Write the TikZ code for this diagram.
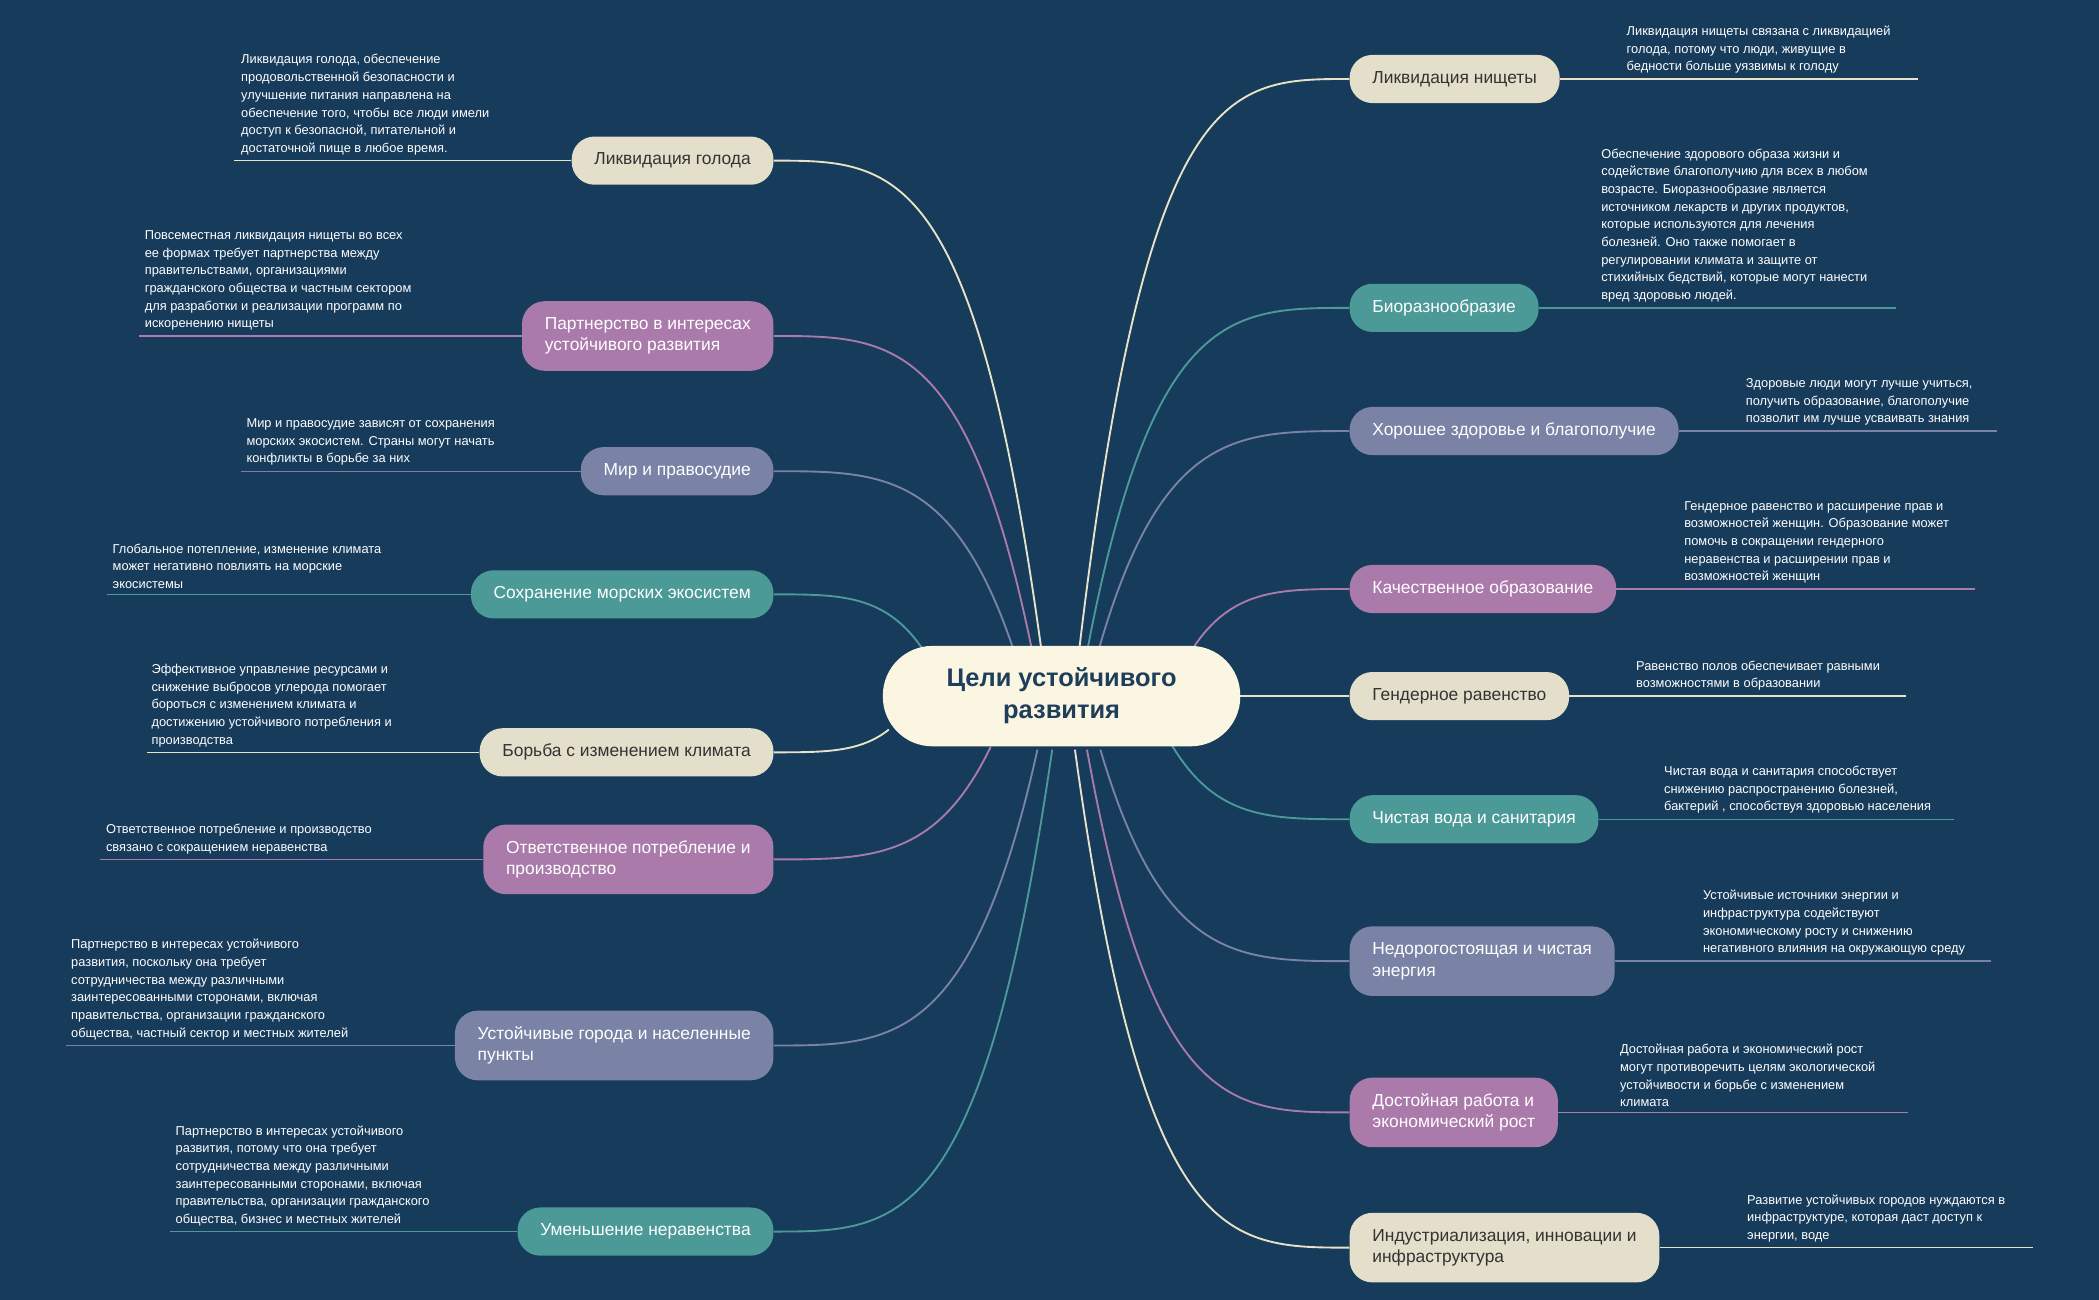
\documentclass[tikz,border=0pt]{standalone}
\usepackage{fontspec}
\setmainfont{Liberation Sans}
\usetikzlibrary{calc}
\definecolor{bg}{HTML}{173B5B}
\definecolor{cr}{HTML}{E3DFCB}
\definecolor{crl}{HTML}{E8E3C6}
\definecolor{pu}{HTML}{A97AAA}
\definecolor{sl}{HTML}{7A83A5}
\definecolor{te}{HTML}{4B9A98}
\definecolor{ctr}{HTML}{FBF6E2}
\definecolor{ctxt}{HTML}{1F3E5C}
\newcommand\myconn[3]{\draw[#1,line width=1.4pt] (#2) .. controls ($(#2|-#3)!0.25!(#3)$) and ($(#2|-#3)!0.55!(#3)$) .. (#3);}
\tikzset{
 nd/.style={rounded corners=17pt,minimum height=36pt,inner xsep=17pt,inner ysep=4pt,align=left,font=\fontsize{13}{16}\selectfont},
 ncr/.style={nd,fill=cr,text=black!80},
 npu/.style={nd,fill=pu,text=white},
 nsl/.style={nd,fill=sl,text=white},
 nte/.style={nd,fill=te,text=white},
 ann/.style={anchor=south west,inner sep=0pt,align=left,text=white,font=\fontsize{9.6}{13.2}\selectfont},
 ul/.style={line width=1pt}
}
\begin{document}
\begin{tikzpicture}[x=1pt,y=-1pt]
\fill[bg] (0,0) rectangle (1568,971);
\useasboundingbox (0,0) rectangle (1568,971);
% start coordinates
\coordinate (r1) at (806,487); \coordinate (r2) at (812,487); \coordinate (r3) at (820,488);
\coordinate (r4) at (890,486); \coordinate (r5) at (925,520); \coordinate (r6) at (875,556);
\coordinate (r7) at (822,560); \coordinate (r8) at (812,560); \coordinate (r9) at (803,560);
\coordinate (l1) at (778,486); \coordinate (l2) at (771,486); \coordinate (l3) at (758,488);
\coordinate (l4) at (690,486); \coordinate (l5) at (664,545); \coordinate (l6) at (740,558);
\coordinate (l7) at (775,560); \coordinate (l8) at (786,560);
% left nodes
\node[ncr,anchor=east] (a1) at (578,120) {Ликвидация голода};
\node[npu,anchor=east,minimum height=52pt] (a2) at (578,251) {Партнерство в интересах\\устойчивого развития};
\node[nsl,anchor=east] (a3) at (578,352) {Мир и правосудие};
\node[nte,anchor=east] (a4) at (578,444) {Сохранение морских экосистем};
\node[ncr,anchor=east] (a5) at (578,562) {Борьба с изменением климата};
\node[npu,anchor=east,minimum height=52pt] (a6) at (578,642) {Ответственное потребление и\\производство};
\node[nsl,anchor=east,minimum height=52pt] (a7) at (578,781) {Устойчивые города и населенные\\пункты};
\node[nte,anchor=east] (a8) at (578,920) {Уменьшение неравенства};
% right nodes
\node[ncr,anchor=west] (b1) at (1008,59) {Ликвидация нищеты};
\node[nte,anchor=west] (b2) at (1008,230) {Биоразнообразие};
\node[nsl,anchor=west] (b3) at (1008,322) {Хорошее здоровье и благополучие};
\node[npu,anchor=west] (b4) at (1008,440) {Качественное образование};
\node[ncr,anchor=west] (b5) at (1008,520) {Гендерное равенство};
\node[nte,anchor=west] (b6) at (1008,612) {Чистая вода и санитария};
\node[nsl,anchor=west,minimum height=52pt] (b7) at (1008,718) {Недорогостоящая и чистая\\энергия};
\node[npu,anchor=west,minimum height=52pt] (b8) at (1008,831) {Достойная работа и\\экономический рост};
\node[ncr,anchor=west,minimum height=52pt] (b9) at (1008,932) {Индустриализация, инновации и\\инфраструктура};
% connectors
\begin{scope}[on background layer/.style={}]
\myconn{crl}{l1}{a1.east}
\myconn{pu}{l2}{a2.east}
\myconn{sl}{l3}{a3.east}
\myconn{te}{l4}{a4.east}
\myconn{crl}{l5}{a5.east}
\myconn{pu}{l6}{a6.east}
\myconn{sl}{l7}{a7.east}
\myconn{te}{l8}{a8.east}
\myconn{crl}{r1}{b1.west}
\myconn{te}{r2}{b2.west}
\myconn{sl}{r3}{b3.west}
\myconn{pu}{r4}{b4.west}
\myconn{crl}{r5}{b5.west}
\myconn{te}{r6}{b6.west}
\myconn{sl}{r7}{b7.west}
\myconn{pu}{r8}{b8.west}
\myconn{crl}{r9}{b9.west}
\end{scope}
% center
\node[fill=ctr,rounded corners=37pt,minimum width=267pt,minimum height=75pt,align=center,text=ctxt,font=\fontsize{19}{24}\selectfont\bfseries] (c) at (793,520) {Цели устойчивого\\развития};
% annotations left
\coordinate (e1) at (175,120); \draw[crl,ul] (e1) -- (a1.west);
\node[ann] (t1) at (180,116) {Ликвидация голода, обеспечение\\продовольственной безопасности и\\улучшение питания направлена на\\обеспечение того, чтобы все люди имели\\доступ к безопасной, питательной и\\достаточной пище в любое время.};
\coordinate (e2) at (104,251); \draw[pu,ul] (e2) -- (a2.west);
\node[ann] (t2) at (108,247) {Повсеместная ликвидация нищеты во всех\\ее формах требует партнерства между\\правительствами, организациями\\гражданского общества и частным сектором\\для разработки и реализации программ по\\искоренению нищеты};
\coordinate (e3) at (180,352); \draw[sl,ul] (e3) -- (a3.west);
\node[ann] (t3) at (184,348) {Мир и правосудие зависят от сохранения\\морских экосистем. Страны могут начать\\конфликты в борьбе за них};
\coordinate (e4) at (80,444); \draw[te,ul] (e4) -- (a4.west);
\node[ann] (t4) at (84,440) {Глобальное потепление, изменение климата\\может негативно повлиять на морские\\экосистемы};
\coordinate (e5) at (110,562); \draw[crl,ul] (e5) -- (a5.west);
\node[ann] (t5) at (113,558) {Эффективное управление ресурсами и\\снижение выбросов углерода помогает\\бороться с изменением климата и\\достижению устойчивого потребления и\\производства};
\coordinate (e6) at (75,642); \draw[pu,ul] (e6) -- (a6.west);
\node[ann] (t6) at (79,638) {Ответственное потребление и производство\\связано с сокращением неравенства};
\coordinate (e7) at (49,781); \draw[sl,ul] (e7) -- (a7.west);
\node[ann] (t7) at (53,777) {Партнерство в интересах устойчивого\\развития, поскольку она требует\\сотрудничества между различными\\заинтересованными сторонами, включая\\правительства, организации гражданского\\общества, частный сектор и местных жителей};
\coordinate (e8) at (127,920); \draw[te,ul] (e8) -- (a8.west);
\node[ann] (t8) at (131,916) {Партнерство в интересах устойчивого\\развития, потому что  она требует\\сотрудничества между различными\\заинтересованными сторонами, включая\\правительства, организации гражданского\\общества, бизнес  и местных жителей};
% annotations right
\coordinate (f1) at (1433,59); \draw[crl,ul] (b1.east) -- (f1);
\node[ann] (u1) at (1215,55) {Ликвидация нищеты связана с ликвидацией\\голода, потому что люди, живущие в\\бедности больше уязвимы к голоду};
\coordinate (f2) at (1416,230); \draw[te,ul] (b2.east) -- (f2);
\node[ann] (u2) at (1196,226) {Обеспечение здорового образа жизни и\\содействие благополучию для всех в любом\\возрасте. Биоразнообразие является\\источником лекарств и других продуктов,\\которые используются для лечения\\болезней. Оно также помогает в\\регулировании климата и защите от\\стихийных бедствий, которые могут нанести\\вред здоровью людей.};
\coordinate (f3) at (1492,322); \draw[sl,ul] (b3.east) -- (f3);
\node[ann] (u3) at (1304,318) {Здоровые люди могут лучше учиться,\\получить образование, благополучие\\позволит им лучше усваивать знания};
\coordinate (f4) at (1475,440); \draw[pu,ul] (b4.east) -- (f4);
\node[ann] (u4) at (1258,436) {Гендерное равенство и расширение прав и\\возможностей женщин. Образование может\\помочь в сокращении гендерного\\неравенства и расширении прав и\\возможностей женщин};
\coordinate (f5) at (1424,520); \draw[crl,ul] (b5.east) -- (f5);
\node[ann] (u5) at (1222,516) {Равенство полов обеспечивает равными\\возможностями в образовании};
\coordinate (f6) at (1460,612); \draw[te,ul] (b6.east) -- (f6);
\node[ann] (u6) at (1243,608) {Чистая вода  и санитария способствует\\снижению распространению болезней,\\бактерий , способствуя здоровью населения};
\coordinate (f7) at (1487,718); \draw[sl,ul] (b7.east) -- (f7);
\node[ann] (u7) at (1272,714) {Устойчивые  источники энергии и\\инфраструктура  содействуют\\экономическому росту и снижению\\негативного влияния на окружающую среду};
\coordinate (f8) at (1425,831); \draw[pu,ul] (b8.east) -- (f8);
\node[ann] (u8) at (1210,827) {Достойная работа и экономический рост\\могут  противоречить целям экологической\\устойчивости  и борьбе с изменением\\климата};
\coordinate (f9) at (1519,932); \draw[crl,ul] (b9.east) -- (f9);
\node[ann] (u9) at (1305,928) {Развитие устойчивых городов нуждаются в\\инфраструктуре, которая даст доступ к\\энергии, воде};
\end{tikzpicture}
\end{document}
